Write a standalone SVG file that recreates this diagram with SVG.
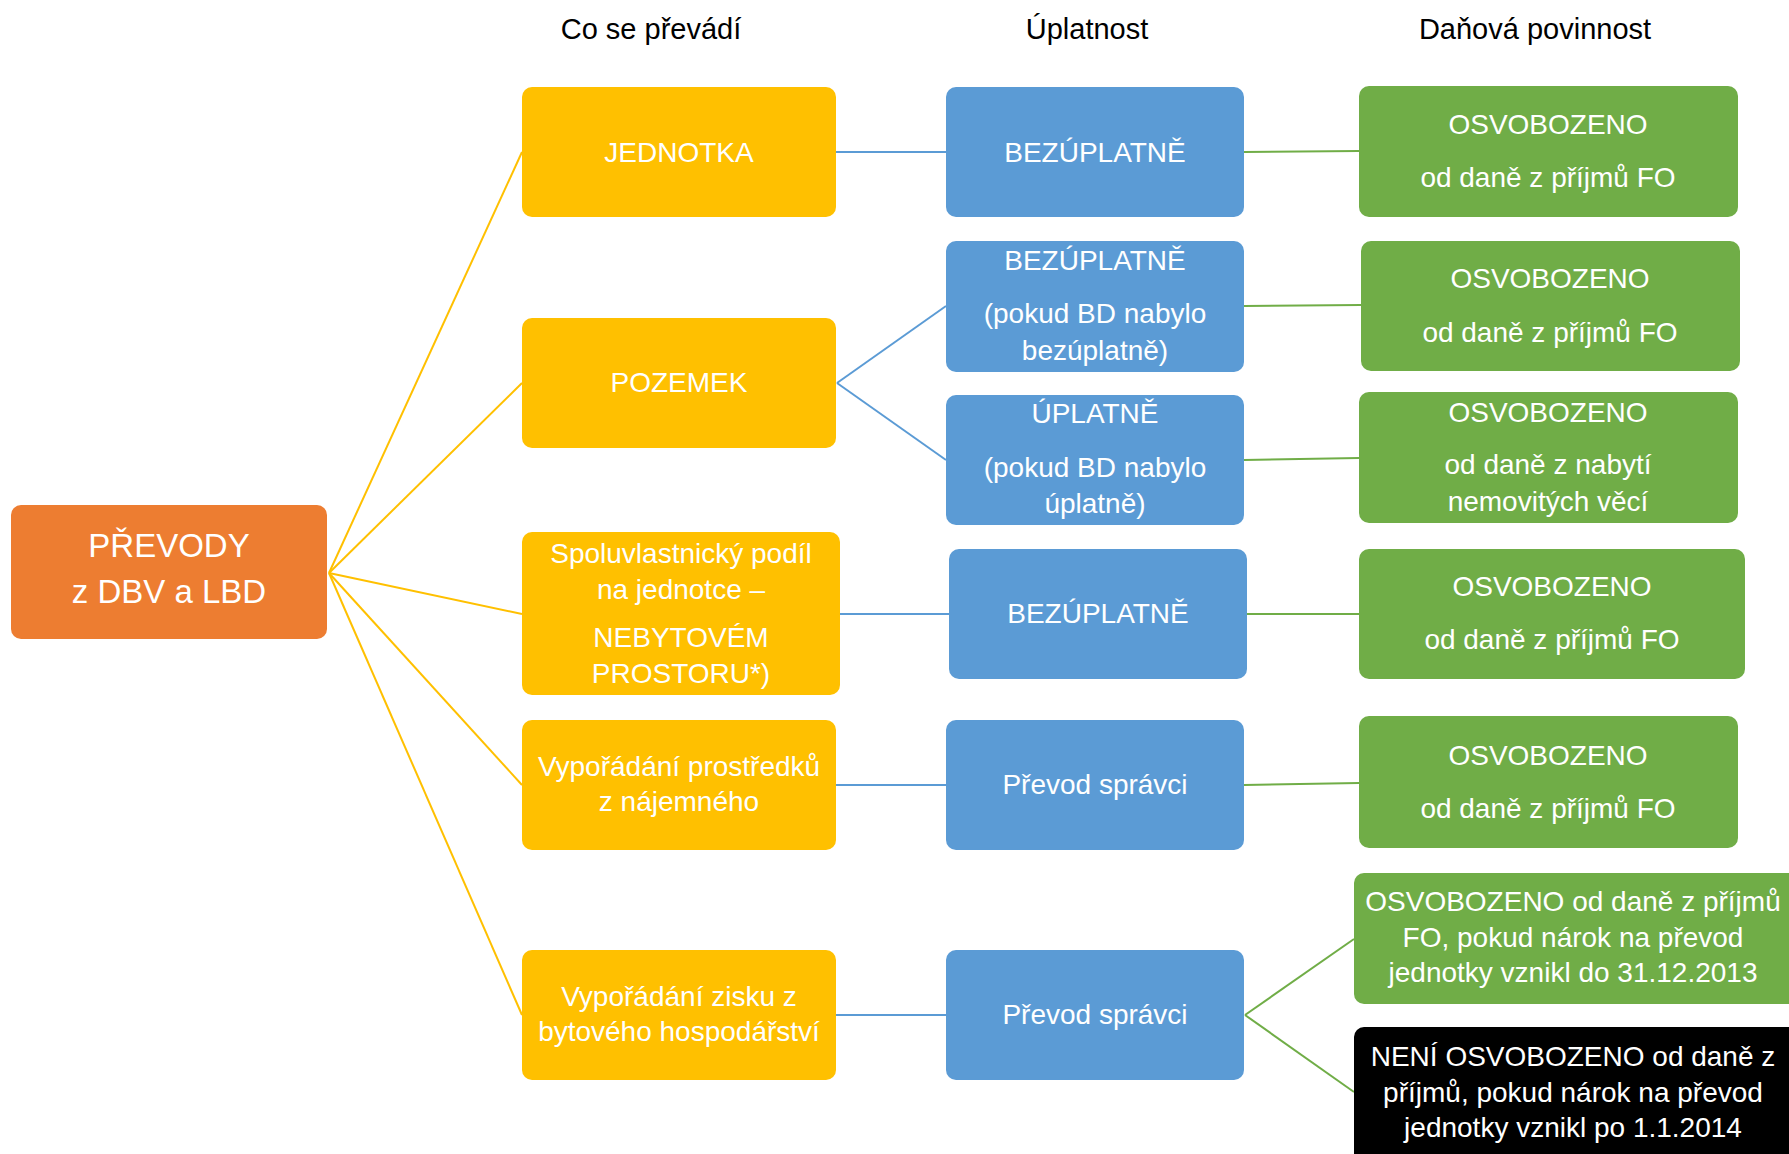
<svg xmlns="http://www.w3.org/2000/svg" width="1789" height="1154" viewBox="0 0 1789 1154">
<style>
text{font-family:"Liberation Sans",Arial,sans-serif;text-anchor:middle;dominant-baseline:central}
.h{font-size:29px;fill:#000}
.t{font-size:28px;fill:#fff}
.r{font-size:33px;fill:#fff}
.or{fill:#ED7D31}
.ye{fill:#FFC000}
.bl{fill:#5B9BD5}
.gr{fill:#70AD47}
.bk{fill:#000}
.cy{stroke:#FFC000;stroke-width:2;fill:none}
.cb{stroke:#5B9BD5;stroke-width:2;fill:none}
.cg{stroke:#70AD47;stroke-width:2;fill:none}
</style>
<rect width="1789" height="1154" fill="#fff"/>
<g id="headers">
<text class="h" x="651" y="29">Co se převádí</text>
<text class="h" x="1087" y="29">Úplatnost</text>
<text class="h" x="1535" y="29">Daňová povinnost</text>
</g>
<g id="connectors">
<line class="cy" x1="329" y1="573" x2="522" y2="152"/>
<line class="cy" x1="329" y1="573" x2="522" y2="383"/>
<line class="cy" x1="329" y1="573" x2="522" y2="614"/>
<line class="cy" x1="329" y1="573" x2="522" y2="785"/>
<line class="cy" x1="329" y1="573" x2="522" y2="1015"/>
<line class="cb" x1="836" y1="152" x2="946" y2="152"/>
<line class="cb" x1="837" y1="383" x2="946" y2="306"/>
<line class="cb" x1="837" y1="383" x2="946" y2="460"/>
<line class="cb" x1="840" y1="614" x2="949" y2="614"/>
<line class="cb" x1="836" y1="785" x2="946" y2="785"/>
<line class="cb" x1="836" y1="1015" x2="946" y2="1015"/>
<line class="cg" x1="1244" y1="152" x2="1359" y2="151"/>
<line class="cg" x1="1244" y1="306" x2="1361" y2="305"/>
<line class="cg" x1="1244" y1="460" x2="1359" y2="458"/>
<line class="cg" x1="1247" y1="614" x2="1359" y2="614"/>
<line class="cg" x1="1244" y1="785" x2="1359" y2="783"/>
<line class="cg" x1="1245" y1="1015" x2="1354" y2="939"/>
<line class="cg" x1="1245" y1="1015" x2="1354" y2="1092"/>
</g>
<g id="root">
<rect class="or" x="11" y="505" width="316" height="134" rx="10"/>
<text class="r" x="169" y="545">PŘEVODY</text>
<text class="r" x="169" y="591">z DBV a LBD</text>
</g>
<g id="y1">
<rect class="ye" x="522" y="87" width="314" height="130" rx="10"/>
<text class="t" x="679" y="152">JEDNOTKA</text>
</g>
<g id="y2">
<rect class="ye" x="522" y="318" width="314" height="130" rx="10"/>
<text class="t" x="679" y="382">POZEMEK</text>
</g>
<g id="y3">
<rect class="ye" x="522" y="532" width="318" height="163" rx="10"/>
<text class="t" x="681" y="553">Spoluvlastnický podíl</text>
<text class="t" x="681" y="589">na jednotce –</text>
<text class="t" x="681" y="637">NEBYTOVÉM</text>
<text class="t" x="681" y="673">PROSTORU*)</text>
</g>
<g id="y4">
<rect class="ye" x="522" y="720" width="314" height="130" rx="10"/>
<text class="t" x="679" y="766">Vypořádání prostředků</text>
<text class="t" x="679" y="801">z nájemného</text>
</g>
<g id="y5">
<rect class="ye" x="522" y="950" width="314" height="130" rx="10"/>
<text class="t" x="679" y="996">Vypořádání zisku z</text>
<text class="t" x="679" y="1031">bytového hospodářství</text>
</g>
<g id="b1">
<rect class="bl" x="946" y="87" width="298" height="130" rx="10"/>
<text class="t" x="1095" y="152">BEZÚPLATNĚ</text>
</g>
<g id="b2">
<rect class="bl" x="946" y="241" width="298" height="131" rx="10"/>
<text class="t" x="1095" y="260">BEZÚPLATNĚ</text>
<text class="t" x="1095" y="313">(pokud BD nabylo</text>
<text class="t" x="1095" y="350">bezúplatně)</text>
</g>
<g id="b3">
<rect class="bl" x="946" y="395" width="298" height="130" rx="10"/>
<text class="t" x="1095" y="413">ÚPLATNĚ</text>
<text class="t" x="1095" y="467">(pokud BD nabylo</text>
<text class="t" x="1095" y="503">úplatně)</text>
</g>
<g id="b4">
<rect class="bl" x="949" y="549" width="298" height="130" rx="10"/>
<text class="t" x="1098" y="613">BEZÚPLATNĚ</text>
</g>
<g id="b5">
<rect class="bl" x="946" y="720" width="298" height="130" rx="10"/>
<text class="t" x="1095" y="784">Převod správci</text>
</g>
<g id="b6">
<rect class="bl" x="946" y="950" width="298" height="130" rx="10"/>
<text class="t" x="1095" y="1014">Převod správci</text>
</g>
<g id="g1">
<rect class="gr" x="1359" y="86" width="379" height="131" rx="10"/>
<text class="t" x="1548" y="124">OSVOBOZENO</text>
<text class="t" x="1548" y="177">od daně z příjmů FO</text>
</g>
<g id="g2">
<rect class="gr" x="1361" y="241" width="379" height="130" rx="10"/>
<text class="t" x="1550" y="278">OSVOBOZENO</text>
<text class="t" x="1550" y="332">od daně z příjmů FO</text>
</g>
<g id="g3">
<rect class="gr" x="1359" y="392" width="379" height="131" rx="10"/>
<text class="t" x="1548" y="412">OSVOBOZENO</text>
<text class="t" x="1548" y="464">od daně z nabytí</text>
<text class="t" x="1548" y="501">nemovitých věcí</text>
</g>
<g id="g4">
<rect class="gr" x="1359" y="549" width="386" height="130" rx="10"/>
<text class="t" x="1552" y="586">OSVOBOZENO</text>
<text class="t" x="1552" y="639">od daně z příjmů FO</text>
</g>
<g id="g5">
<rect class="gr" x="1359" y="716" width="379" height="132" rx="10"/>
<text class="t" x="1548" y="755">OSVOBOZENO</text>
<text class="t" x="1548" y="808">od daně z příjmů FO</text>
</g>
<g id="g6">
<rect class="gr" x="1354" y="873" width="445" height="131" rx="10"/>
<text class="t" x="1573" y="901">OSVOBOZENO od daně z příjmů</text>
<text class="t" x="1573" y="937">FO, pokud nárok na převod</text>
<text class="t" x="1573" y="972">jednotky vznikl do 31.12.2013</text>
</g>
<g id="k1">
<rect class="bk" x="1354" y="1027" width="445" height="140" rx="10"/>
<text class="t" x="1573" y="1056">NENÍ OSVOBOZENO od daně z</text>
<text class="t" x="1573" y="1092">příjmů, pokud nárok na převod</text>
<text class="t" x="1573" y="1127">jednotky vznikl po 1.1.2014</text>
</g>
</svg>
